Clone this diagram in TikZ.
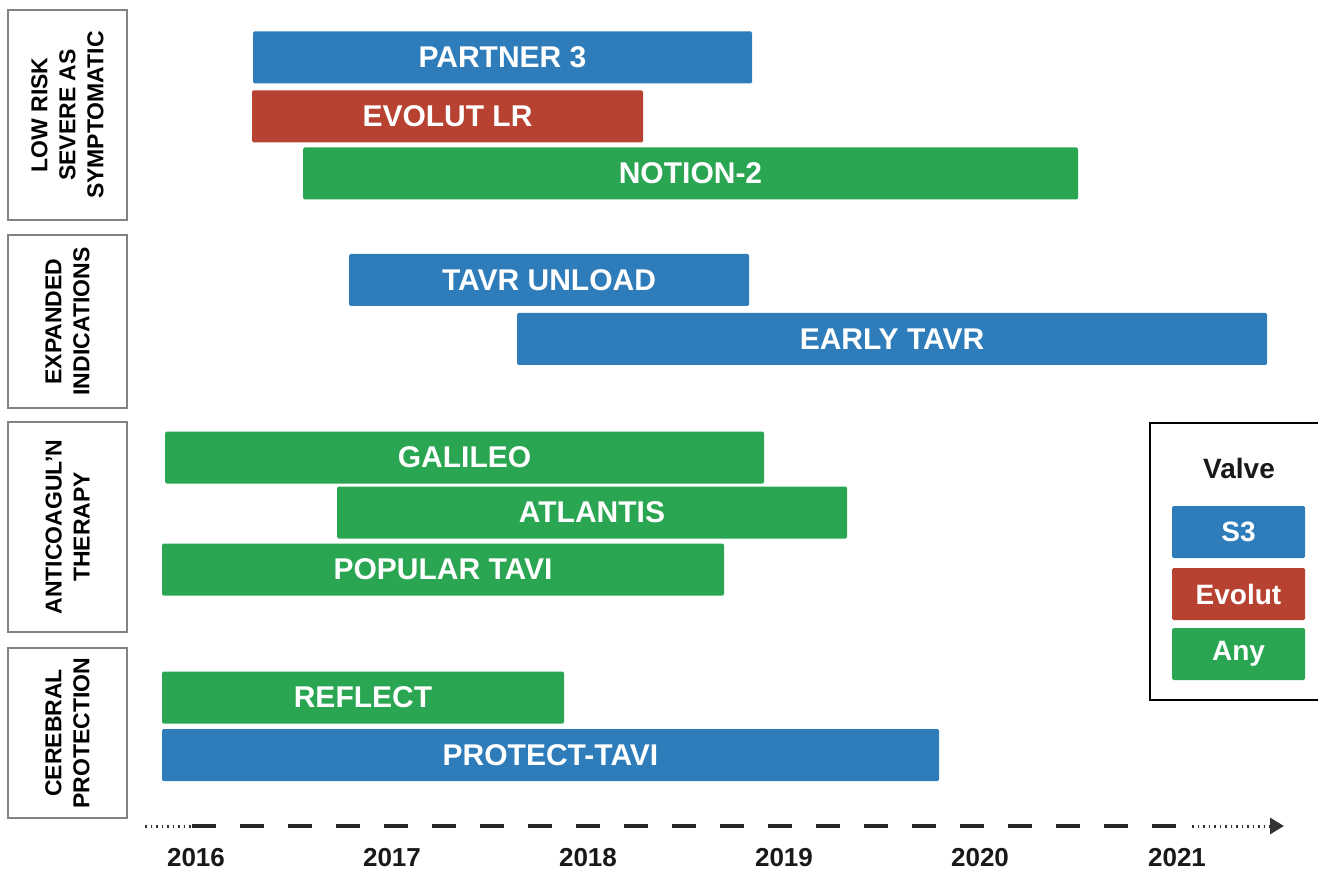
\documentclass[tikz,border=0pt]{standalone}
\usepackage{fontspec}
\setmainfont{Liberation Sans}
\usetikzlibrary{arrows.meta}
\definecolor{sthree}{RGB}{46,125,186}
\definecolor{evolut}{RGB}{184,66,50}
\definecolor{anyvalve}{RGB}{42,166,82}
\definecolor{framegray}{RGB}{130,130,130}
\tikzset{
  trial/.style={rectangle, rounded corners=1.5pt, inner sep=0pt, minimum height=52pt,
    text=white, font=\fontsize{30}{34}\selectfont\bfseries},
  category/.style={draw=framegray, line width=2pt, rotate=90, inner sep=0pt,
    minimum height=119pt, align=center, font=\fontsize{23}{28}\selectfont\bfseries},
  key/.style={rectangle, rounded corners=1.5pt, inner sep=0pt, minimum width=133pt,
    minimum height=52pt, text=white, font=\fontsize{28}{32}\selectfont\bfseries},
  year/.style={font=\fontsize{26}{30}\selectfont\bfseries, text=black!90}
}
\begin{document}
\begin{tikzpicture}[x=1pt,y=-1pt]
  \useasboundingbox (0,0) rectangle (1318,877);
  \clip (0,0) rectangle (1318,877);
  % categories
  \node[category, minimum width=210pt] (low) at (67.5,115) {LOW RISK\\SEVERE AS\\SYMPTOMATIC};
  \node[category, minimum width=173pt] (expanded) at (67.5,321.5) {EXPANDED\\INDICATIONS};
  \node[category, minimum width=210pt] (anticoag) at (67.5,527) {ANTICOAGUL'N\\THERAPY};
  \node[category, minimum width=170pt] (cerebral) at (67.5,733) {CEREBRAL\\PROTECTION};
  % trials
  \node[trial, fill=sthree, minimum width=499pt] (partner) at (502.5,57.5) {PARTNER 3};
  \node[trial, fill=evolut, minimum width=391pt] (evolutlr) at (447.5,116.5) {EVOLUT LR};
  \node[trial, fill=anyvalve, minimum width=775pt] (notion) at (690.5,173.5) {NOTION-2};
  \node[trial, fill=sthree, minimum width=400pt] (unload) at (549,280) {TAVR UNLOAD};
  \node[trial, fill=sthree, minimum width=750pt] (early) at (892,339) {EARLY TAVR};
  \node[trial, fill=anyvalve, minimum width=599pt] (galileo) at (464.5,457.5) {GALILEO};
  \node[trial, fill=anyvalve, minimum width=510pt] (atlantis) at (592,512.5) {ATLANTIS};
  \node[trial, fill=anyvalve, minimum width=562pt] (popular) at (443,569.5) {POPULAR TAVI};
  \node[trial, fill=anyvalve, minimum width=402pt] (reflect) at (363,697.5) {REFLECT};
  \node[trial, fill=sthree, minimum width=777pt] (protect) at (550.5,755) {PROTECT-TAVI};
  % legend
  \node[draw=black, line width=2.5pt, minimum width=176pt, minimum height=277pt,
    inner sep=0pt] (legend) at (1238,561.5) {};
  \node[font=\fontsize{28}{32}\selectfont\bfseries, text=black!90] (valve) at (1239,468) {Valve};
  \node[key, fill=sthree] (keys) at (1238.5,532) {S3};
  \node[key, fill=evolut] (keye) at (1238.5,594) {Evolut};
  \node[key, fill=anyvalve] (keya) at (1238.5,654) {Any};
  % time axis
  \coordinate (t0) at (145,826);
  \coordinate (t1) at (192,826);
  \coordinate (t2) at (1192,826);
  \coordinate (t3) at (1284,826);
  \draw[line width=3pt, dash pattern=on 1.5pt off 4pt, black!80] (t0) -- (t1);
  \draw[line width=4pt, dash pattern=on 24pt off 24pt, black!85] (t1) -- (t2);
  \draw[line width=3pt, dash pattern=on 1.5pt off 4pt, black!80,
    -{Triangle[length=14pt,width=16pt]}] (t2) -- (t3);
  \node[year] (y2016) at (196,858) {2016};
  \node[year] (y2017) at (392,858) {2017};
  \node[year] (y2018) at (588,858) {2018};
  \node[year] (y2019) at (784,858) {2019};
  \node[year] (y2020) at (980,858) {2020};
  \node[year] (y2021) at (1177,858) {2021};
\end{tikzpicture}
\end{document}
